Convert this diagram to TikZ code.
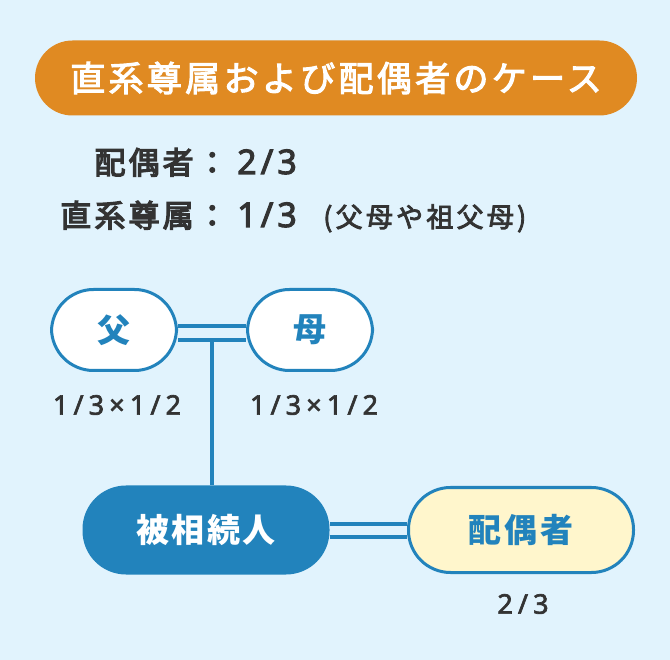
\documentclass[tikz,border=0pt]{standalone}
\usepackage{fontspec}
\setmainfont{Noto Sans CJK JP}
\newfontfamily\numfont{Noto Sans}
\usetikzlibrary{calc}
\definecolor{bg}{HTML}{E1F3FD}
\definecolor{ttl}{HTML}{E08A22}
\definecolor{blu}{HTML}{2283BC}
\definecolor{ylw}{HTML}{FFF6CC}
\definecolor{txt}{HTML}{333333}
\begin{document}
\begin{tikzpicture}[x=1pt,y=-1pt,
  pill/.style={rounded corners=42pt, minimum width=125pt, minimum height=81pt, draw=blu, line width=3pt, inner sep=0pt},
  nodetxt/.style={font=\fontsize{33}{36}\selectfont\bfseries\addfontfeatures{LetterSpace=8}},
  cjkline/.style={text=txt, font=\fontsize{31}{34}\selectfont\addfontfeatures{LetterSpace=10,FakeBold=4}},
  numline/.style={text=txt, font=\numfont\fontsize{34}{36}\selectfont\addfontfeatures{LetterSpace=12,FakeBold=3}},
  frac/.style={text=txt, font=\numfont\fontsize{27}{30}\selectfont\addfontfeatures{LetterSpace=19,FakeBold=2.5}},
  link/.style={draw=blu, line width=4pt}]
\fill[bg] (0,0) rectangle (670,660);
\useasboundingbox (0,0) rectangle (670,660);
% title
\node[fill=ttl, rounded corners=37.5pt, minimum width=602pt, minimum height=75pt, inner sep=0pt, text=white,
  font=\fontsize{35}{38}\selectfont\addfontfeatures{LetterSpace=9.5,FakeBold=3}] (title) at (336,78) {直系尊属および配偶者のケース};
% ratios
\node[anchor=base east, cjkline, inner sep=0pt] (l1a) at (228,174) {配偶者：};
\node[anchor=base west, numline, inner sep=0pt] (l1b) at ([xshift=9pt]l1a.base east) {2/3};
\node[anchor=base east, cjkline, inner sep=0pt] (l2a) at (228,227) {直系尊属：};
\node[anchor=base west, numline, inner sep=0pt] (l2b) at ([xshift=9pt]l2a.base east) {1/3};
\node[anchor=base west, text=txt, inner sep=0pt, font=\fontsize{27}{29}\selectfont\addfontfeatures{LetterSpace=12,FakeBold=3}] (l2c) at ([xshift=26pt]l2b.base east) {(父母や祖父母)};
% nodes
\node[pill, fill=white, text=blu, nodetxt] (fa) at (114,330) {父};
\node[pill, fill=white, text=blu, nodetxt] (mo) at (310,330) {母};
\node[pill, fill=blu, text=white, nodetxt, minimum width=244pt, minimum height=86pt] (hs) at (206,530) {被相続人};
\node[pill, fill=ylw, text=blu, nodetxt, minimum width=225pt, minimum height=85pt] (sp) at (521,530) {配偶者};
% links
\draw[link] ($(fa.east)+(0,-4)$) -- ($(mo.west)+(0,-4)$);
\draw[link] ($(fa.east)+(0,10)$) -- ($(mo.west)+(0,10)$);
\coordinate (vt) at (212,340);
\draw[link] (vt) -- (vt |- hs.north);
\draw[link] ($(hs.east)+(0,-6)$) -- ($(sp.west)+(0,-6)$);
\draw[link] ($(hs.east)+(0,7)$) -- ($(sp.west)+(0,7)$);
% labels
\node[frac] (f1) at (117,405) {1/3×1/2};
\node[frac] (f2) at (314,405) {1/3×1/2};
\node[frac] (f3) at (523,604) {2/3};
\end{tikzpicture}
\end{document}
